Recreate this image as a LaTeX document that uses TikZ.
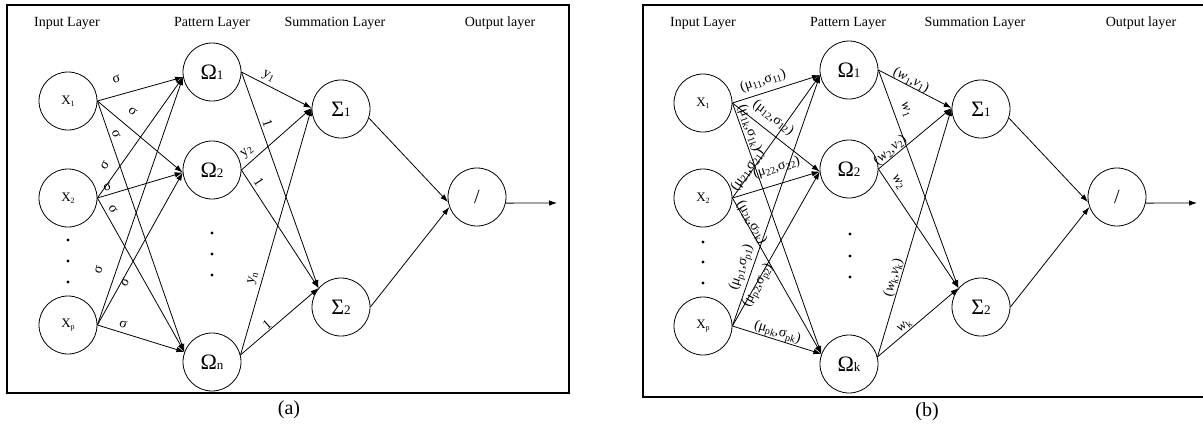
\documentclass[tikz,border=0pt]{standalone}
\usepackage{fontspec}
\setmainfont{Liberation Serif}
\usetikzlibrary{arrows.meta}
% symbol with a smaller index set on the baseline (pattern / summation units)
\newcommand\bigsub[2]{{\fontsize{22}{24}\selectfont #1}{\fontsize{13}{14}\selectfont #2}}
% input unit label with a tiny lowered index
\newcommand\insub[2]{{\fontsize{13}{14}\selectfont #1}\raisebox{-1.5pt}{\fontsize{8}{9}\selectfont #2}}
% lowered index for weight labels
\newcommand\lo[1]{\raisebox{-0.35ex}{\fontsize{10}{11}\selectfont #1}}
\newcommand\mupair[1]{(μ\lo{#1},σ\lo{#1})}
\newcommand\wvpair[1]{(\textit{w}\lo{#1},\textit{v}\lo{#1})}
\newcommand\wsub[1]{\textit{w}\lo{#1}}
\newcommand\ylab[1]{y\lo{#1}}
\begin{document}
\begin{tikzpicture}[x=1pt,y=-1pt,
  neuron/.style={draw,circle,minimum size=58pt,inner sep=0pt,line width=0.8pt},
  link/.style={line width=0.8pt,-{Latex[length=8pt,width=5.5pt]}},
  frame/.style={line width=2.2pt},
  layer/.style={font=\fontsize{14}{16}\selectfont},
  sig/.style={sloped,inner sep=0pt,font=\fontsize{14}{16}\selectfont},
  panelcap/.style={font=\fontsize{20}{22}\selectfont}
]
\useasboundingbox (0,0) rectangle (1203,432);

% ---------------- panel (a) ----------------
\draw[frame] (7,5) rectangle (569,393);
\node[layer] (aL1) at (67,23) {Input Layer};
\node[layer] (aL2) at (212,23) {Pattern Layer};
\node[layer] (aL3) at (335,23) {Summation Layer};
\node[layer] (aL4) at (500,23) {Output layer};

\node[neuron] (aX1) at (68,101) {\insub{X}{1}};
\node[neuron] (aX2) at (68,198) {\insub{X}{2}};
\node[neuron] (aXp) at (68,325) {\insub{X}{p}};
\node[neuron] (aO1) at (212,72) {\bigsub{Ω}{1}};
\node[neuron] (aO2) at (212,170) {\bigsub{Ω}{2}};
\node[neuron] (aOn) at (212,362) {\bigsub{Ω}{n}};
\node[neuron] (aS1) at (341,109) {\bigsub{Σ}{1}};
\node[neuron] (aS2) at (341,307) {\bigsub{Σ}{2}};
\node[neuron] (aY) at (477,197) {\fontsize{20}{22}\selectfont /};
\coordinate (aEnd) at (557,203);

\foreach \yy in {240,261,282} \fill (68,\yy) circle (1.6pt);
\foreach \yy in {233,254,275} \fill (212,\yy) circle (1.6pt);

\draw[link] (aX1.east) -- node[sig,pos=.27,above=12pt]{σ} (aO1.190);
\draw[link] (aX1.east) -- node[sig,pos=.30,above=11pt]{σ} (aO2.185);
\draw[link] (aX1.east) -- node[sig,pos=.14,above=3pt]{σ} (aOn.160);
\draw[link] (aX2.east) -- node[sig,pos=.21,above=9pt]{σ} (aO1.190);
\draw[link] (aX2.east) -- node[sig,pos=.14,above=3.5pt]{σ} (aO2.185);
\draw[link] (aX2.east) -- node[sig,pos=.10,above=4pt]{σ} (aOn.160);
\draw[link] (aXp.east) -- node[sig,pos=.20,above=13pt]{σ} (aO1.190);
\draw[link] (aXp.east) -- node[sig,pos=.29,below=-1pt]{σ} (aO2.185);
\draw[link] (aXp.east) -- node[sig,pos=.27,above=4pt]{σ} (aOn.160);

\draw[link] (aO1.east) -- node[sig,pos=.33,above=3pt]{\ylab{1}} (aS1.178);
\draw[link] (aO1.east) -- node[sig,pos=.25,above=2.5pt]{1} (aS2.140);
\draw[link] (aO2.east) -- node[sig,pos=.17,above=4pt]{\ylab{2}} (aS1.178);
\draw[link] (aO2.east) -- node[sig,pos=.14,above=3pt]{1} (aS2.140);
\draw[link] (aOn.14) -- node[sig,pos=.30,above=4pt]{\ylab{n}} (aS1.178);
\draw[link] (aOn.14) -- node[sig,pos=.39,above=1pt]{1} (aS2.140);

\draw[link] (aS1.-18) -- (aY.190);
\draw[link] (aS2.east) -- (aY.200);
\draw[link] (aY.-12) -- (aEnd);

\node[panelcap] (aCap) at (289,410) {(a)};

% ---------------- panel (b) ----------------
\draw[frame] (1203,5) -- (643,5) -- (643,397) -- (1203,397);
\node[layer] (bL1) at (703,23) {Input Layer};
\node[layer] (bL2) at (848,23) {Pattern Layer};
\node[layer] (bL3) at (975,23) {Summation Layer};
\node[layer] (bL4) at (1141,23) {Output layer};

\node[neuron] (bX1) at (703,103) {\insub{X}{1}};
\node[neuron] (bX2) at (703,198) {\insub{X}{2}};
\node[neuron] (bXp) at (703,326) {\insub{X}{p}};
\node[neuron] (bO1) at (849,70) {\bigsub{Ω}{1}};
\node[neuron] (bO2) at (849,169) {\bigsub{Ω}{2}};
\node[neuron] (bOk) at (849,364) {\bigsub{Ω}{k}};
\node[neuron] (bS1) at (981,109) {\bigsub{Σ}{1}};
\node[neuron] (bS2) at (981,307) {\bigsub{Σ}{2}};
\node[neuron] (bY) at (1117,197) {\fontsize{20}{22}\selectfont /};
\coordinate (bEnd) at (1197,203);

\foreach \yy in {242,262,283} \fill (703,\yy) circle (1.6pt);
\foreach \yy in {234,256,277} \fill (850,\yy) circle (1.6pt);

\draw[link] (bX1.east) -- node[sig,pos=.39,above=5pt]{\mupair{11}} (bO1.190);
\draw[link] (bX1.east) -- node[sig,pos=.37,above=7pt]{\mupair{12}} (bO2.185);
\draw[link] (bX1.east) -- node[sig,pos=.11,above=1pt]{\mupair{1k}} (bOk.160);
\draw[link] (bX2.east) -- node[sig,pos=.21,above=-3pt]{\mupair{21}} (bO1.190);
\draw[link] (bX2.east) -- node[sig,pos=.56,above=9.5pt]{\mupair{22}} (bO2.185);
\draw[link] (bX2.east) -- node[sig,pos=.17,above=-2pt]{\mupair{2k}} (bOk.160);
\draw[link] (bXp.east) -- node[sig,pos=.22,above=3pt]{\mupair{p1}} (bO1.190);
\draw[link] (bXp.east) -- node[sig,pos=.27,below=-5pt]{\mupair{p2}} (bO2.185);
\draw[link] (bXp.east) -- node[sig,pos=.48,above=-0.5pt]{\mupair{pk}} (bOk.160);

\draw[link] (bO1.east) -- node[sig,pos=.41,above=-1pt]{\wvpair{1}} (bS1.178);
\draw[link] (bO1.east) -- node[sig,pos=.20,above=7pt]{\wsub{1}} (bS2.140);
\draw[link] (bO2.east) -- node[sig,pos=.22,above=0pt]{\wvpair{2}} (bS1.178);
\draw[link] (bO2.east) -- node[sig,pos=.155,above=3.7pt]{\wsub{2}} (bS2.140);
\draw[link] (bOk.14) -- node[sig,pos=.31,above=0.5pt]{\wvpair{k}} (bS1.178);
\draw[link] (bOk.14) -- node[sig,pos=.38,above=1pt]{\wsub{k}} (bS2.140);

\draw[link] (bS1.-18) -- (bY.190);
\draw[link] (bS2.east) -- (bY.200);
\draw[link] (bY.-12) -- (bEnd);

\node[panelcap] (bCap) at (927,412) {(b)};
\end{tikzpicture}
\end{document}
